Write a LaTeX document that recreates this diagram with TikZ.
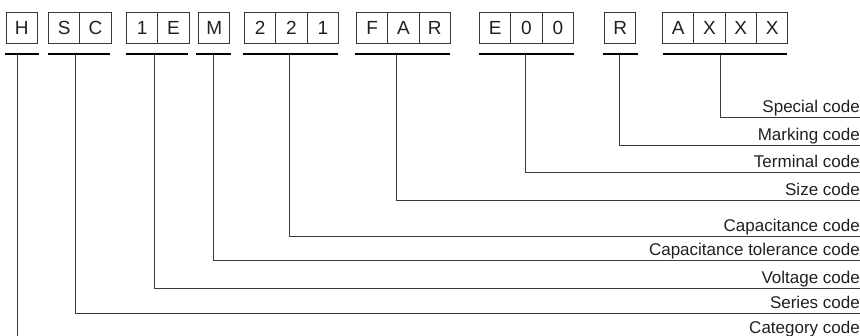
\documentclass[tikz,border=0pt]{standalone}
\usepackage{fontspec}
\setmainfont{Liberation Sans}
\definecolor{ink}{HTML}{231F20}
\definecolor{wirec}{HTML}{3D3735}
\begin{document}
\begin{tikzpicture}[x=1pt,y=-1pt,
  cell/.style={draw=wirec, line width=1.1pt, minimum width=31.3pt, minimum height=31pt,
    inner sep=0pt, anchor=north west, font=\fontsize{19}{19}\selectfont, text=ink},
  uline/.style={draw=black, line width=2.4pt},
  wire/.style={draw=wirec, line width=1pt},
  lab/.style={anchor=base east, inner sep=0pt, font=\fontsize{17}{17}\selectfont, text=ink}]
\useasboundingbox (0,0) rectangle (860,336);
% code cells
\node[cell] (h1) at (5.5,12) {H};
\node[cell] (s1) at (48,12) {S};
\node[cell] (s2) at (79.3,12) {C};
\node[cell] (v1) at (126,12) {1};
\node[cell] (v2) at (157.3,12) {E};
\node[cell] (t1) at (198,12) {M};
\node[cell] (c1) at (244,12) {2};
\node[cell] (c2) at (275.3,12) {2};
\node[cell] (c3) at (306.6,12) {1};
\node[cell] (z1) at (356,12) {F};
\node[cell] (z2) at (387.3,12) {A};
\node[cell] (z3) at (418.6,12) {R};
\node[cell] (e1) at (479,12) {E};
\node[cell] (e2) at (510.3,12) {0};
\node[cell] (e3) at (541.6,12) {0};
\node[cell] (m1) at (604,12) {R};
\node[cell] (x1) at (662,12) {A};
\node[cell] (x2) at (693.3,12) {X};
\node[cell] (x3) at (724.6,12) {X};
\node[cell] (x4) at (755.9,12) {X};
% underlines
\draw[uline] (5,54) -- (39,54);
\draw[uline] (48,54) -- (110,54);
\draw[uline] (126,54) -- (188,54);
\draw[uline] (196,54) -- (231,54);
\draw[uline] (243,54) -- (338,54);
\draw[uline] (355,54) -- (450,54);
\draw[uline] (479,54) -- (574,54);
\draw[uline] (603,54) -- (638,54);
\draw[uline] (663,54) -- (787,54);
% connector start points (just under the underlines)
\coordinate (hT) at (17,55.5);
\coordinate (sT) at (75,55.5);
\coordinate (vT) at (154,55.5);
\coordinate (tT) at (213,55.5);
\coordinate (cT) at (289,55.5);
\coordinate (zT) at (396,55.5);
\coordinate (eT) at (525,55.5);
\coordinate (mT) at (619,55.5);
\coordinate (xT) at (720,55.5);
% connector end points at the right edge
\coordinate (xE) at (860,118);
\coordinate (mE) at (860,146);
\coordinate (eE) at (860,173);
\coordinate (zE) at (860,201);
\coordinate (cE) at (860,237);
\coordinate (tE) at (860,261);
\coordinate (vE) at (860,289);
\coordinate (sE) at (860,314);
\coordinate (hE) at (17,336);
% labels
\node[lab] (lx) at (860,112.5) {Special code};
\node[lab] (lm) at (860,140.5) {Marking code};
\node[lab] (le) at (860,167.5) {Terminal code};
\node[lab] (lz) at (860,195.5) {Size code};
\node[lab] (lc) at (860,231.5) {Capacitance code};
\node[lab] (lt) at (860,255.5) {Capacitance tolerance code};
\node[lab] (lv) at (860,283.5) {Voltage code};
\node[lab] (ls) at (860,308.5) {Series code};
\node[lab] (lh) at (860,334) {Category code};
% connectors
\draw[wire] (xT) |- (xE);
\draw[wire] (mT) |- (mE);
\draw[wire] (eT) |- (eE);
\draw[wire] (zT) |- (zE);
\draw[wire] (cT) |- (cE);
\draw[wire] (tT) |- (tE);
\draw[wire] (vT) |- (vE);
\draw[wire] (sT) |- (sE);
\draw[wire] (hT) -- (hE);
\end{tikzpicture}
\end{document}
